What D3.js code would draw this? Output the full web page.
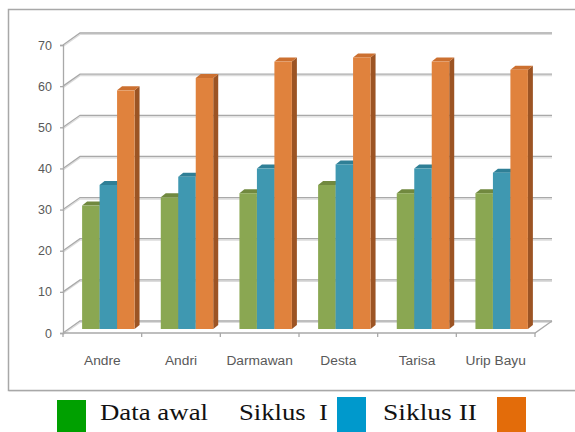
<!DOCTYPE html>
<html>
<head>
<meta charset="utf-8">
<script src="https://cdn.jsdelivr.net/npm/d3@7"></script>
<style>
  body { margin: 0; background: #fff; }
  svg { display: block; }
</style>
</head>
<body>
<div id="chart"></div>
<script>
// values
var categories = ["Andre", "Andri", "Darmawan", "Desta", "Tarisa", "Urip Bayu"];
var dataAwal   = [30, 32, 33, 35, 33, 33];
var siklusI    = [35, 37, 39, 40, 39, 38];
var siklusII   = [58, 61, 65, 66, 65, 63];
var yTicks     = [0, 10, 20, 30, 40, 50, 60, 70];
var seriesNames = ["Data awal", "Siklus I", "Siklus II"];

var W = 575, H = 432;
var svg = d3.select("#chart").append("svg")
    .attr("width", W).attr("height", H);

// 3d depth of the plot box
var depth = {dx: 17, dy: -12};
var barShift = {dx: 6, dy: -4};   // bars stand a bit behind the front plane
var barDepth = {dx: 5, dy: -4};

var x = d3.scaleBand().domain(categories).range([63, 535]);
var x1 = d3.scaleBand().domain(seriesNames).range([0, x.bandwidth()]).paddingOuter(0.75);
var y = d3.scaleLinear().domain([0, 70]).range([333, 45]);

var faces = {
  "Data awal": {front: "#8aa752", top: "#71893f", side: "#62783a"},
  "Siklus I":  {front: "#3f98b1", top: "#2f7f96", side: "#2a6a7d"},
  "Siklus II": {front: "#e0823d", top: "#cc7030", side: "#9c5424"}
};

// outer frame
svg.append("rect")
    .attr("x", 8.5).attr("y", 9.5).attr("width", 580).attr("height", 381)
    .attr("fill", "none").attr("stroke", "#a8a8a8").attr("stroke-width", 1.5);
svg.append("line").attr("x1", 9).attr("x2", 580).attr("y1", 391.5).attr("y2", 391.5)
    .attr("stroke", "#dedede").attr("stroke-width", 1);

// back wall gridlines with the little diagonal on the side wall
var grid = svg.append("g");
yTicks.forEach(function(t) {
  var yy = y(t);
  grid.append("path")
      .attr("d", "M63," + (yy + 1.5) + "L" + (63 + depth.dx) + "," + (yy + depth.dy + 1.5) + "H552")
      .attr("fill", "none").attr("stroke", "#dcdcdc").attr("stroke-width", 1.2);
  grid.append("path")
      .attr("d", "M63," + yy + "L" + (63 + depth.dx) + "," + (yy + depth.dy) + "H552")
      .attr("fill", "none").attr("stroke", "#a9a9a9").attr("stroke-width", 1.3);
});

// y axis
var yAxis = svg.append("g").attr("transform", "translate(63,0)")
    .call(d3.axisLeft(y).tickValues(yTicks).tickSize(3).tickPadding(8));
yAxis.select(".domain").attr("stroke", "#a9a9a9").attr("stroke-width", 1.3);
yAxis.selectAll(".tick line").attr("stroke", "#a9a9a9").attr("stroke-width", 1.3);
yAxis.selectAll("text").attr("fill", "#595959")
    .style("font-family", "Liberation Sans, Arial, sans-serif").style("font-size", "12.5px");

// floor front edge and right edge
svg.append("path")
    .attr("d", "M63," + y(0) + "H535L" + (535 + depth.dx) + "," + (y(0) + depth.dy))
    .attr("fill", "none").attr("stroke", "#a9a9a9").attr("stroke-width", 1.3);

// x axis ticks at band edges + labels
var xAxis = svg.append("g").attr("transform", "translate(0," + y(0) + ")");
var edges = categories.map(function(c) { return x(c); }).concat([535]);
xAxis.selectAll("line").data(edges).enter().append("line")
    .attr("x1", function(d) { return d; }).attr("x2", function(d) { return d; })
    .attr("y1", 0).attr("y2", 4)
    .attr("stroke", "#a9a9a9").attr("stroke-width", 1.3);
xAxis.selectAll("text").data(categories).enter().append("text")
    .attr("x", function(d) { return x(d) + x.bandwidth() / 2; })
    .attr("y", 32)
    .attr("text-anchor", "middle")
    .attr("fill", "#595959")
    .style("font-family", "Liberation Sans, Arial, sans-serif")
    .style("font-size", "12.5px")
    .text(function(d) { return d; })
    .each(function() {
      var n = this.getComputedTextLength();
      d3.select(this).attr("textLength", n * 1.1).attr("lengthAdjust", "spacingAndGlyphs");
    });

// bars
var rows = [];
categories.forEach(function(c, i) {
  rows.push({cat: c, key: "Data awal", value: dataAwal[i]});
  rows.push({cat: c, key: "Siklus I", value: siklusI[i]});
  rows.push({cat: c, key: "Siklus II", value: siklusII[i]});
});

var bars = svg.append("g").selectAll("g").data(rows).enter().append("g");
bars.each(function(d) {
  var g = d3.select(this);
  var x0 = x(d.cat) + x1(d.key) + barShift.dx;
  var w = x1.bandwidth();
  var yb = y(0) + barShift.dy;
  var yt = y(d.value) + barShift.dy;
  var f = faces[d.key];
  // side
  g.append("path")
      .attr("d", "M" + (x0 + w) + "," + yt + "L" + (x0 + w + barDepth.dx) + "," + (yt + barDepth.dy) +
                 "V" + (yb + barDepth.dy) + "L" + (x0 + w) + "," + yb + "Z")
      .attr("fill", f.side);
  // top
  g.append("path")
      .attr("d", "M" + x0 + "," + yt + "L" + (x0 + barDepth.dx) + "," + (yt + barDepth.dy) +
                 "H" + (x0 + w + barDepth.dx) + "L" + (x0 + w) + "," + yt + "Z")
      .attr("fill", f.top);
  // front
  g.append("rect")
      .attr("x", x0).attr("y", yt).attr("width", w).attr("height", yb - yt)
      .attr("fill", f.front);
});

// legend (squares and labels as laid out in the picture)
var legendColors = {"Data awal": "#00a000", "Siklus I": "#0099cc", "Siklus II": "#e36c0a"};
var legendItems = [
  {type: "box", key: "Data awal", x: 57, y: 400},
  {type: "text", label: "Data awal", x: 100, w: 108},
  {type: "text", label: "Siklus\u00a0\u00a0I", x: 239, w: 89},
  {type: "box", key: "Siklus I", x: 337, y: 397},
  {type: "text", label: "Siklus II", x: 383, w: 94},
  {type: "box", key: "Siklus II", x: 497, y: 397}
];
var legend = svg.append("g");
legendItems.forEach(function(it) {
  if (it.type === "box") {
    legend.append("rect").attr("x", it.x).attr("y", it.y).attr("width", 29).attr("height", 40)
        .attr("fill", legendColors[it.key]);
  } else {
    legend.append("text").attr("x", it.x).attr("y", 420)
        .attr("fill", "#111")
        .style("font-family", "Liberation Serif, Times New Roman, serif")
        .style("font-size", "23px")
        .attr("textLength", it.w).attr("lengthAdjust", "spacingAndGlyphs")
        .text(it.label);
  }
});
</script>
</body>
</html>
